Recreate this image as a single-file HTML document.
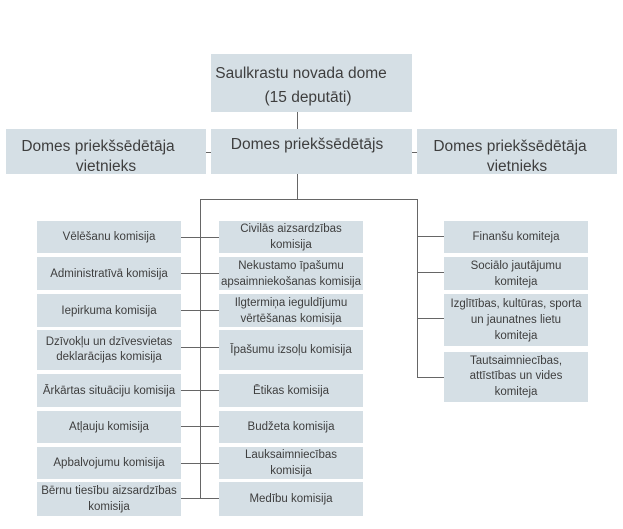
<!DOCTYPE html>
<html>
<head>
<meta charset="utf-8">
<style>
  html,body{margin:0;padding:0;background:#fff;}
  body{width:623px;height:529px;position:relative;overflow:hidden;
       font-family:"Liberation Sans",sans-serif;color:#3e3e3e;}
  .b{position:absolute;background:#d5dfe5;}
  .t{position:absolute;text-align:center;white-space:nowrap;}
  .t span{position:relative;}
  .s{position:absolute;background:#d5dfe5;display:flex;align-items:center;justify-content:center;
     text-align:center;font-size:11.5px;line-height:16px;white-space:nowrap;}
  .big{font-size:15.5px;}
  svg{position:absolute;left:0;top:0;}
</style>
</head>
<body>
<svg width="623" height="529">
  <g stroke="#666" stroke-width="1" fill="none">
    <line x1="297.5" y1="112" x2="297.5" y2="129"/>
    <line x1="206" y1="152.5" x2="211" y2="152.5"/>
    <line x1="412" y1="152.5" x2="417" y2="152.5"/>
    <line x1="297.5" y1="174" x2="297.5" y2="199"/>
    <line x1="200.5" y1="199.5" x2="417.5" y2="199.5"/>
    <line x1="200.5" y1="199" x2="200.5" y2="499"/>
    <line x1="417.5" y1="199" x2="417.5" y2="378"/>
    <line x1="181" y1="237.5" x2="219" y2="237.5"/>
    <line x1="181" y1="273.5" x2="219" y2="273.5"/>
    <line x1="181" y1="310.5" x2="219" y2="310.5"/>
    <line x1="181" y1="347.5" x2="219" y2="347.5"/>
    <line x1="181" y1="390.5" x2="219" y2="390.5"/>
    <line x1="181" y1="426.5" x2="219" y2="426.5"/>
    <line x1="181" y1="463.5" x2="219" y2="463.5"/>
    <line x1="181" y1="498.5" x2="219" y2="498.5"/>
    <line x1="417" y1="236.5" x2="444" y2="236.5"/>
    <line x1="417" y1="272.5" x2="444" y2="272.5"/>
    <line x1="417" y1="318.5" x2="444" y2="318.5"/>
    <line x1="417" y1="377.5" x2="444" y2="377.5"/>
  </g>
</svg>

<!-- top -->
<div class="b" style="left:211px;top:54px;width:201px;height:58px;"></div>
<div class="t big" style="left:211px;top:62px;width:194px;line-height:24px;"><span style="left:-7px;">Saulkrastu novada dome</span><br><span>(15 deputāti)</span></div>

<!-- row 2 -->
<div class="b" style="left:6px;top:129px;width:200px;height:45px;"></div>
<div class="t big" style="left:6px;top:137px;width:200px;line-height:20px;"><span style="left:-8px;">Domes priekšsēdētāja</span><br><span>vietnieks</span></div>
<div class="b" style="left:211px;top:129px;width:201px;height:45px;"></div>
<div class="t big" style="left:211px;top:135px;width:192px;line-height:20px;">Domes priekšsēdētājs</div>
<div class="b" style="left:417px;top:129px;width:200px;height:45px;"></div>
<div class="t big" style="left:417px;top:137px;width:200px;line-height:20px;"><span style="left:-7px;">Domes priekšsēdētāja</span><br><span>vietnieks</span></div>

<!-- left column -->
<div class="s" style="left:37px;top:221px;width:144px;height:32px;">Vēlēšanu komisija</div>
<div class="s" style="left:37px;top:257px;width:144px;height:33px;">Administratīvā komisija</div>
<div class="s" style="left:37px;top:294px;width:144px;height:33px;">Iepirkuma komisija</div>
<div class="s" style="left:37px;top:330px;width:144px;height:40px;line-height:15px;">Dzīvokļu un dzīvesvietas<br>deklarācijas komisija</div>
<div class="s" style="left:37px;top:374px;width:144px;height:33px;">Ārkārtas situāciju komisija</div>
<div class="s" style="left:37px;top:411px;width:144px;height:32px;">Atļauju komisija</div>
<div class="s" style="left:37px;top:447px;width:144px;height:32px;">Apbalvojumu komisija</div>
<div class="s" style="left:37px;top:482px;width:144px;height:34px;">Bērnu tiesību aizsardzības<br>komisija</div>

<!-- middle column -->
<div class="s" style="left:219px;top:221px;width:144px;height:32px;">Civilās aizsardzības<br>komisija</div>
<div class="s" style="left:219px;top:257px;width:144px;height:33px;">Nekustamo īpašumu<br>apsaimniekošanas komisija</div>
<div class="s" style="left:219px;top:294px;width:144px;height:33px;">Ilgtermiņa ieguldījumu<br>vērtēšanas komisija</div>
<div class="s" style="left:219px;top:330px;width:144px;height:40px;">Īpašumu izsoļu komisija</div>
<div class="s" style="left:219px;top:374px;width:144px;height:33px;">Ētikas komisija</div>
<div class="s" style="left:219px;top:411px;width:144px;height:32px;">Budžeta komisija</div>
<div class="s" style="left:219px;top:447px;width:144px;height:32px;">Lauksaimniecības<br>komisija</div>
<div class="s" style="left:219px;top:482px;width:144px;height:34px;">Medību komisija</div>

<!-- right column -->
<div class="s" style="left:444px;top:221px;width:144px;height:32px;">Finanšu komiteja</div>
<div class="s" style="left:444px;top:257px;width:144px;height:33px;">Sociālo jautājumu<br>komiteja</div>
<div class="s" style="left:444px;top:294px;width:144px;height:52px;">Izglītības, kultūras, sporta<br>un jaunatnes lietu<br>komiteja</div>
<div class="s" style="left:444px;top:352px;width:144px;height:50px;line-height:15.5px;">Tautsaimniecības,<br>attīstības un vides<br>komiteja</div>
</body>
</html>
